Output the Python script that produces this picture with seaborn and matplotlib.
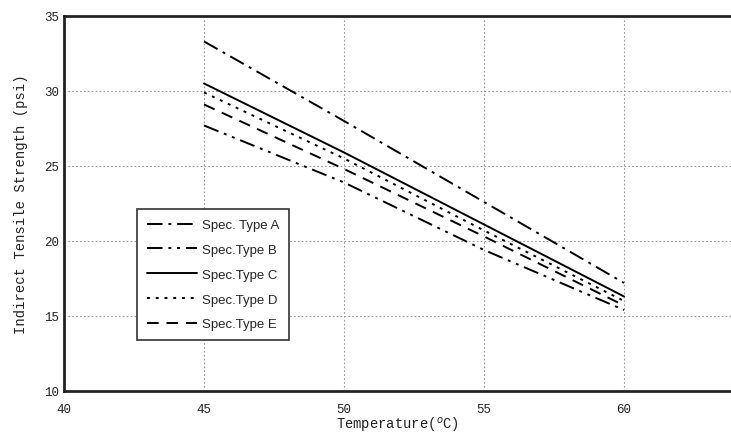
import matplotlib
matplotlib.use("Agg")
import matplotlib.pyplot as plt
import seaborn as sns
import pandas as pd

temps = [45, 50, 55, 60]
type_a = [33.3, 28.0, 22.6, 17.2]
type_b = [27.7, 23.9, 19.4, 15.4]
type_c = [30.5, 25.9, 21.1, 16.3]
type_d = [29.9, 25.5, 20.7, 16.0]
type_e = [29.1, 24.8, 20.3, 15.7]
names = ["Spec. Type A", "Spec.Type B", "Spec.Type C", "Spec.Type D", "Spec.Type E"]
x_ticks = [40, 45, 50, 55, 60]
y_ticks = [10, 15, 20, 25, 30, 35]


def main():
    sns.set_theme(style="white")
    plt.rcParams["font.family"] = ["Liberation Mono", "DejaVu Sans Mono"]

    rows = []
    for name, vals in zip(names, [type_a, type_b, type_c, type_d, type_e]):
        for t, v in zip(temps, vals):
            rows.append({"Temperature": t, "Strength": v, "Type": name})
    df = pd.DataFrame(rows)

    fig = plt.figure(figsize=(7.31, 4.35), dpi=100)
    ax = fig.add_axes([0.0876, 0.0989, 0.9124, 0.8621])

    dashes = {
        names[0]: (8, 3, 1.5, 3),
        names[1]: (8, 3, 1.5, 3, 1.5, 3),
        names[2]: "",
        names[3]: (1.5, 3),
        names[4]: (6, 4),
    }
    sns.lineplot(data=df, x="Temperature", y="Strength", style="Type",
                 dashes=dashes, color="black", linewidth=1.4, ax=ax,
                 style_order=names)

    ax.set_xlim(40, 63.82)
    ax.set_ylim(10, 35)
    ax.set_xticks(x_ticks)
    ax.set_yticks(y_ticks)
    ax.tick_params(axis="both", length=0, labelsize=9, colors="#222222")
    ax.tick_params(axis="x", pad=9)
    ax.grid(True, color="#999999", linestyle=(0, (1.5, 2)), linewidth=0.8)

    for side in ["left", "bottom", "top"]:
        ax.spines[side].set_color("#222222")
        ax.spines[side].set_linewidth(2.0)
    ax.spines["right"].set_visible(False)

    ax.set_xlabel("Temperature($^{o}$C)", fontsize=10, labelpad=0, color="#222222")
    ax.set_ylabel("Indirect Tensile Strength (psi)", fontsize=10, labelpad=12, color="#222222")

    leg = ax.legend(loc="upper left", bbox_to_anchor=(0.1094, 0.485),
                    borderaxespad=0, handlelength=3.8, handletextpad=0.35,
                    labelspacing=0.95, borderpad=0.75, fancybox=False,
                    framealpha=1, edgecolor="#333333",
                    prop={"family": "Liberation Sans", "size": 9.5})
    leg.get_frame().set_linewidth(1.2)

    fig.savefig("out.png", dpi=100)


if __name__ == "__main__":
    main()
